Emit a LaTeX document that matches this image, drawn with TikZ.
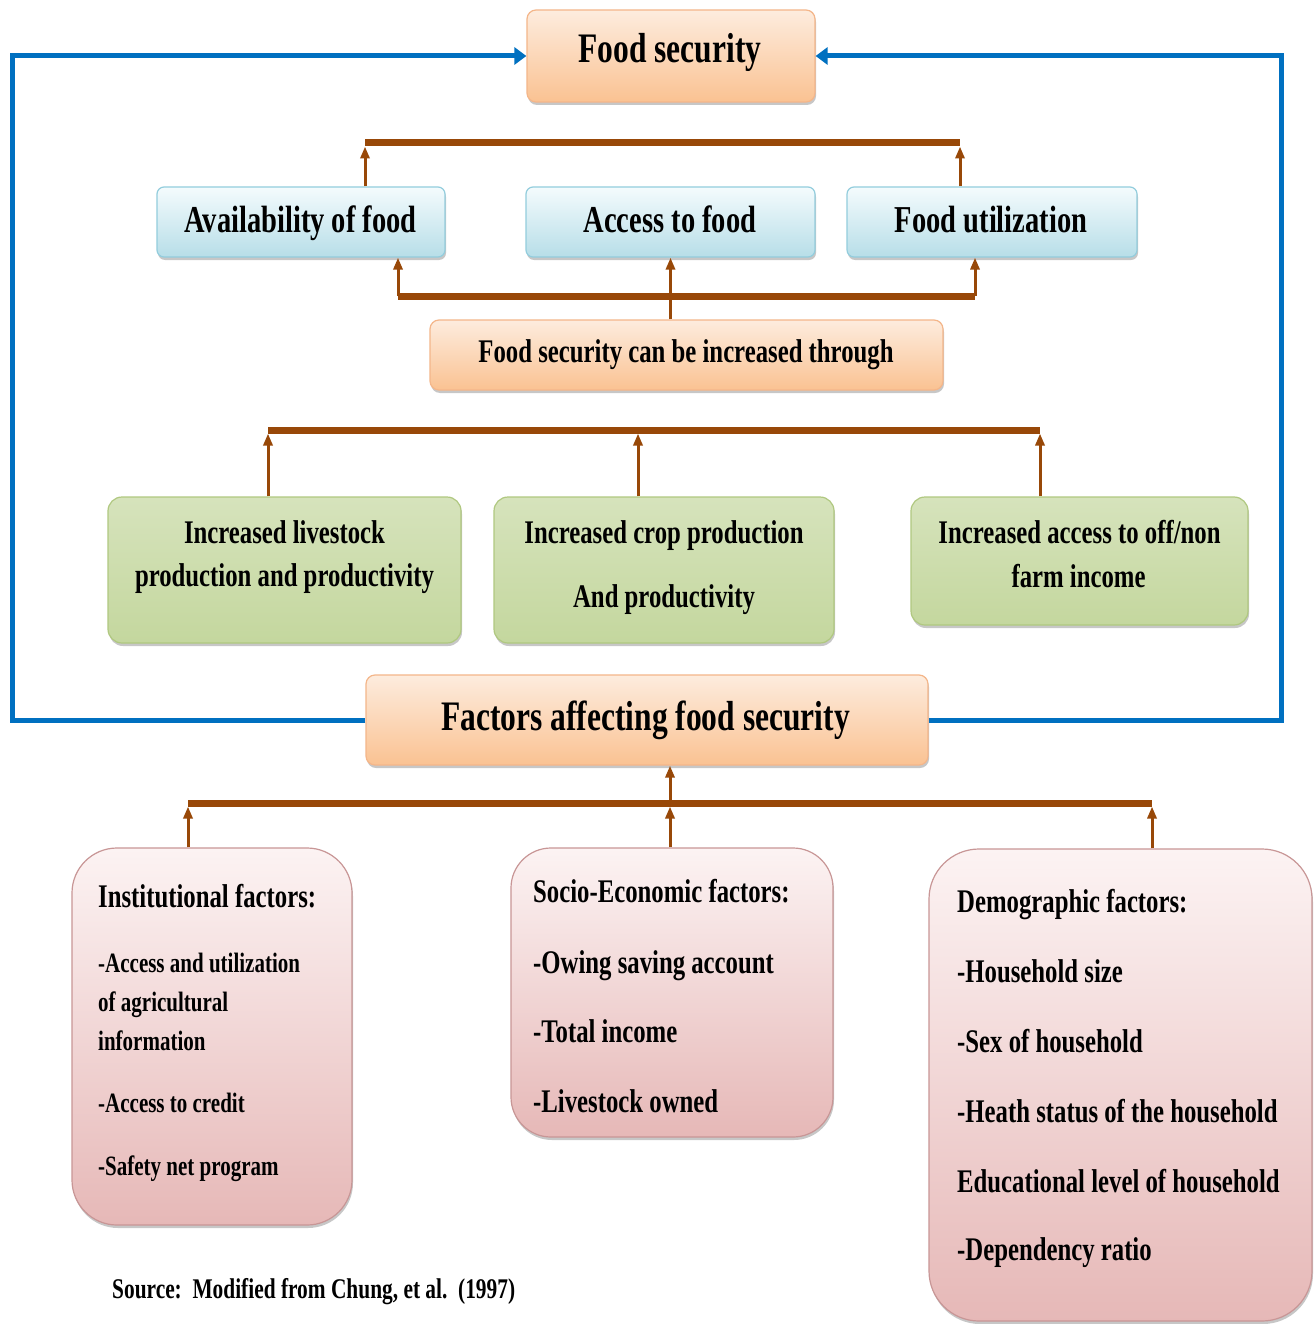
\documentclass[tikz,border=0pt]{standalone}
\usepackage{fontspec}
\setmainfont{Liberation Serif}[FakeStretch=0.75]
\usetikzlibrary{arrows.meta,shadows}
\definecolor{brn}{RGB}{152,72,8}
\definecolor{blu}{RGB}{0,112,192}
\definecolor{orA}{RGB}{253,236,222}
\definecolor{orB}{RGB}{250,194,146}
\definecolor{orE}{RGB}{244,182,138}
\definecolor{blA}{RGB}{244,251,253}
\definecolor{blB}{RGB}{183,222,232}
\definecolor{blE}{RGB}{147,205,221}
\definecolor{grA}{RGB}{214,227,188}
\definecolor{grM}{RGB}{240,245,230}
\definecolor{grB}{RGB}{196,215,158}
\definecolor{grE}{RGB}{176,200,128}
\definecolor{pkA}{RGB}{252,243,243}
\definecolor{pkB}{RGB}{230,184,183}
\definecolor{pkE}{RGB}{200,150,150}
\tikzset{
  boxbase/.style={rectangle, draw, line width=1.2pt, inner sep=0pt,
    drop shadow={shadow xshift=1pt, shadow yshift=-3pt, fill=black, opacity=0.22}},
  orbox/.style={boxbase, draw=orE, top color=orA, bottom color=orB, rounded corners=9pt},
  blbox/.style={boxbase, draw=blE, top color=blA, bottom color=blB, rounded corners=7pt},
  grbox/.style={boxbase, draw=grE, top color=grA, middle color=grM, bottom color=grB, rounded corners=14pt},
  pkbox/.style={boxbase, draw=pkE, top color=pkA, bottom color=pkB},
  lbl/.style={anchor=base, inner sep=0pt},
  lleft/.style={anchor=base west, inner sep=0pt},
  fbig/.style={font=\fontsize{42}{48}\selectfont\bfseries},
  fmid/.style={font=\fontsize{38}{44}\selectfont\bfseries},
  fnorm/.style={font=\fontsize{33}{40}\selectfont\bfseries},
  fsmall/.style={font=\fontsize{28}{34}\selectfont\bfseries},
  bar/.style={draw=brn, line width=7pt},
  arr/.style={draw=brn, line width=3pt, -{Triangle[length=12pt,width=9pt]}},
  bline/.style={draw=blu, line width=5pt, -{Triangle[length=12pt,width=17pt]}}
}
\begin{document}
\begin{tikzpicture}[x=1pt,y=-1pt]
\useasboundingbox[fill=white] (0,0) rectangle (1315,1324);

% boxes
\node[orbox, minimum width=288pt, minimum height=92pt] (fs) at (671,56) {};
\node[blbox, minimum width=288pt, minimum height=70pt] (avail) at (301,222) {};
\node[blbox, minimum width=289pt, minimum height=70pt] (access) at (670.5,222) {};
\node[blbox, minimum width=290pt, minimum height=70pt] (util) at (992,222) {};
\node[orbox, minimum width=513pt, minimum height=70pt] (inc) at (686.5,355) {};
\node[grbox, minimum width=353pt, minimum height=146pt] (g1) at (284.5,570) {};
\node[grbox, minimum width=340pt, minimum height=146pt] (g2) at (664,570) {};
\node[grbox, minimum width=337pt, minimum height=128pt] (g3) at (1079.5,561) {};
\node[orbox, minimum width=562pt, minimum height=90pt] (fact) at (647,720) {};
\node[pkbox, rounded corners=45pt, minimum width=280pt, minimum height=377pt] (p1) at (212,1036.5) {};
\node[pkbox, rounded corners=40pt, minimum width=322pt, minimum height=289pt] (p2) at (672,992.5) {};
\node[pkbox, rounded corners=50pt, minimum width=383pt, minimum height=472pt] (p3) at (1120.5,1085) {};

% texts
\node[lbl, fbig] (tfs) at (670,63) {Food security};
\node[lbl, fmid] (tavail) at (300.5,233) {Availability of food};
\node[lbl, fmid] (taccess) at (670,233) {Access to food};
\node[lbl, fmid] (tutil) at (991,233) {Food utilization};
\node[lbl, fnorm] (tinc) at (686,362) {Food security can be increased through};
\node[lbl, fnorm] (tg1a) at (284.5,543) {Increased livestock};
\node[lbl, fnorm] (tg1b) at (284.5,586) {production and productivity};
\node[lbl, fnorm] (tg2a) at (664,543) {Increased crop production};
\node[lbl, fnorm] (tg2b) at (664,607) {And productivity};
\node[lbl, fnorm] (tg3a) at (1079.5,543) {Increased access to off/non};
\node[lbl, fnorm] (tg3b) at (1078.5,587) {farm income};
\node[lbl, fbig] (tfact) at (645.5,730) {Factors affecting food security};

\node[lleft, fnorm] (tp1a) at (98,907) {Institutional factors:};
\node[lleft, fsmall] (tp1b) at (98,972) {-Access and utilization};
\node[lleft, fsmall] (tp1c) at (98,1011) {of agricultural};
\node[lleft, fsmall] (tp1d) at (98,1050) {information};
\node[lleft, fsmall] (tp1e) at (98,1112) {-Access to credit};
\node[lleft, fsmall] (tp1f) at (98,1175) {-Safety net program};

\node[lleft, fnorm] (tp2a) at (533,902) {Socio-Economic factors:};
\node[lleft, fnorm] (tp2b) at (533,973) {-Owing saving account};
\node[lleft, fnorm] (tp2c) at (533,1042) {-Total income};
\node[lleft, fnorm] (tp2d) at (533,1112) {-Livestock owned};

\node[lleft, fnorm] (tp3a) at (957,912) {Demographic factors:};
\node[lleft, fnorm] (tp3b) at (957,982) {-Household size};
\node[lleft, fnorm] (tp3c) at (957,1052) {-Sex of household};
\node[lleft, fnorm] (tp3d) at (957,1122) {-Heath status of the household};
\node[lleft, fnorm] (tp3e) at (957,1192) {Educational level of household};
\node[lleft, fnorm] (tp3f) at (957,1260) {-Dependency ratio};

\node[lleft, font=\fontsize{28.5}{34}\selectfont\bfseries] (src) at (112,1298) {Source:\ \ Modified from Chung, et al.\ \ (1997)};

% blue feedback loop
\coordinate (lft) at (12,400);
\coordinate (rgt) at (1281,400);
\draw[bline] (fact.west) -| (lft) |- (fs.west);
\draw[bline] (fact.east) -| (rgt) |- (fs.east);

% bar 1 (top)
\coordinate (t1) at (365,143);
\coordinate (t2) at (960,143);
\draw[arr, shorten >=3.5pt] (avail.north -| t1) -- (t1);
\draw[arr, shorten >=3.5pt] (util.north -| t2) -- (t2);
\draw[bar] (t1) -- (t2);

% bar 2
\coordinate (m1) at (398,296);
\coordinate (m2) at (975,296);
\draw[arr] (m1) -- (avail.south -| m1);
\draw[arr] (m2) -- (util.south -| m2);
\draw[bar] (m1) -- (m2);
\draw[arr] (inc.north -| access) -- (access.south);

% bar 3
\coordinate (l1) at (268,430);
\coordinate (l2) at (638,430);
\coordinate (l3) at (1040,430);
\draw[arr, shorten >=3.5pt] (g1.north -| l1) -- (l1);
\draw[arr, shorten >=3.5pt] (g2.north -| l2) -- (l2);
\draw[arr, shorten >=3.5pt] (g3.north -| l3) -- (l3);
\draw[bar] (l1) -- (l3);

% bar 4
\coordinate (f1) at (188,803);
\coordinate (f2) at (670,803);
\coordinate (f3) at (1152,803);
\draw[arr, shorten >=3.5pt] (p1.north -| f1) -- (f1);
\draw[arr, shorten >=3.5pt] (p2.north -| f2) -- (f2);
\draw[arr, shorten >=3.5pt] (p3.north -| f3) -- (f3);
\draw[bar] (f1) -- (f3);
\draw[arr] (f2) -- (fact.south -| f2);
\end{tikzpicture}
\end{document}
